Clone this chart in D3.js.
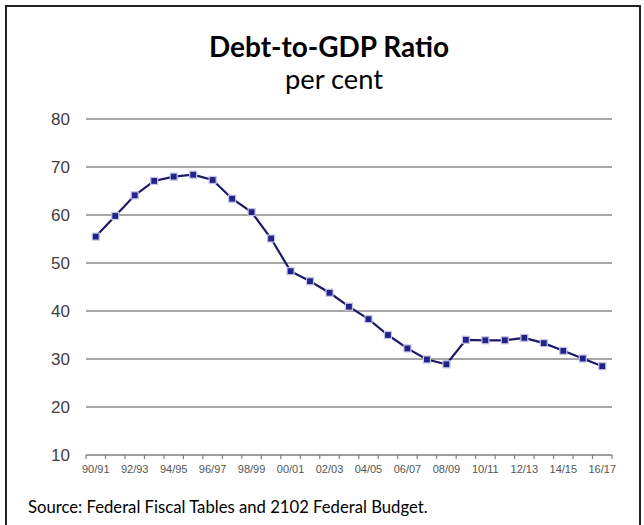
<!DOCTYPE html>
<html>
<head>
<meta charset="utf-8">
<script src="https://cdn.jsdelivr.net/npm/d3@7"></script>
<style>
  html, body { margin: 0; padding: 0; background: #fff; }
  svg { display: block; }
</style>
</head>
<body>
<div id="chart"></div>
<script>
// fiscal years shown on the x axis
const years = ['90/91','91/92','92/93','93/94','94/95','95/96','96/97','97/98','98/99','99/00',
    '00/01','01/02','02/03','03/04','04/05','05/06','06/07','07/08','08/09','09/10',
    '10/11','11/12','12/13','13/14','14/15','15/16','16/17'];
// debt as per cent of GDP
const debtRatio = [55.5, 59.8, 64.1, 67.1, 68.0, 68.4, 67.3, 63.4, 60.6, 55.1,
    48.3, 46.2, 43.8, 40.9, 38.3, 35.0, 32.2, 29.9, 28.9, 34.0,
    33.9, 33.9, 34.4, 33.3, 31.7, 30.1, 28.5];
const yTicks = [10, 20, 30, 40, 50, 60, 70, 80];
const labelledYears = years.filter((d, i) => i % 2 === 0);

const W = 644, H = 525;
const margin = { top: 119, right: 32, bottom: 70, left: 86 };
const width = W - margin.left - margin.right;
const height = H - margin.top - margin.bottom;

const svg = d3.select('#chart').append('svg')
    .attr('width', W)
    .attr('height', H);

// frame
svg.append('path')
    .attr('d', 'M6,525 V6 H640 V525')
    .attr('fill', 'none')
    .attr('stroke', '#222')
    .attr('stroke-width', 2);

// fit a text node to a target width by adjusting its font size
function fitWidth(sel, target) {
    const size = parseFloat(sel.style('font-size'));
    const w = sel.node().getComputedTextLength();
    sel.style('font-size', (size * target / w) + 'px');
}

const title = svg.append('text')
    .attr('x', 329).attr('y', 57)
    .attr('text-anchor', 'middle')
    .style('font-family', 'Lato, "Open Sans", sans-serif')
    .style('font-weight', 'bold')
    .style('font-size', '26px')
    .style('fill', '#000')
    .text('Debt-to-GDP Ratio');
fitWidth(title, 240);

const subtitle = svg.append('text')
    .attr('x', 334).attr('y', 89)
    .attr('text-anchor', 'middle')
    .style('font-family', 'Lato, "Open Sans", sans-serif')
    .style('font-size', '24px')
    .style('fill', '#000')
    .text('per cent');
fitWidth(subtitle, 98);

const source = svg.append('text')
    .attr('x', 28).attr('y', 513)
    .style('font-family', 'Lato, "Open Sans", sans-serif')
    .style('font-size', '18px')
    .style('fill', '#000')
    .text('Source: Federal Fiscal Tables and 2102 Federal Budget.');
fitWidth(source, 400);

const g = svg.append('g')
    .attr('transform', 'translate(' + margin.left + ',' + margin.top + ')');

const xScale = d3.scaleBand()
    .domain(years)
    .range([0, width]);

const yScale = d3.scaleLinear()
    .domain([10, 80])
    .range([height, 0]);

// horizontal gridlines
g.append('g')
    .selectAll('line')
    .data(yTicks.filter(d => d > 10))
    .enter().append('line')
    .attr('x1', 0).attr('x2', width)
    .attr('y1', d => yScale(d)).attr('y2', d => yScale(d))
    .attr('stroke', '#a6a6a6')
    .attr('stroke-width', 2);

// y axis labels
const yAxis = d3.axisLeft(yScale)
    .tickValues(yTicks)
    .tickSize(0)
    .tickPadding(16);
const yG = g.append('g').call(yAxis);
yG.select('.domain').remove();
yG.selectAll('text')
    .style('font-family', '"Liberation Sans Narrow", "Liberation Sans", Arial, sans-serif')
    .style('font-size', '17px')
    .style('fill', '#404040');

// x axis: ticks on category boundaries, labels every second year
const xG = g.append('g').attr('transform', 'translate(0,' + height + ')');
xG.append('line')
    .attr('x1', 0).attr('x2', width)
    .attr('stroke', '#7f7f7f').attr('stroke-width', 1.5);
xG.selectAll('.tick-mark')
    .data(years.concat(['end']))
    .enter().append('line')
    .attr('class', 'tick-mark')
    .attr('x1', (d, i) => i * xScale.step())
    .attr('x2', (d, i) => i * xScale.step())
    .attr('y1', 0).attr('y2', 4)
    .attr('stroke', '#7f7f7f').attr('stroke-width', 1.2);
xG.selectAll('.x-label')
    .data(labelledYears)
    .enter().append('text')
    .attr('class', 'x-label')
    .attr('x', d => xScale(d) + xScale.bandwidth() / 2)
    .attr('y', 18)
    .attr('text-anchor', 'middle')
    .style('font-family', '"Liberation Sans Narrow", "Liberation Sans", Arial, sans-serif')
    .style('font-size', '11px')
    .style('fill', '#555')
    .text(d => d);

const points = years.map((d, i) => ({ year: d, val: debtRatio[i] }));
const cx = d => xScale(d.year) + xScale.bandwidth() / 2;

const line = d3.line()
    .x(cx)
    .y(d => yScale(d.val));

g.append('path')
    .datum(points)
    .attr('d', line)
    .attr('fill', 'none')
    .attr('stroke', '#1c1a66')
    .attr('stroke-width', 2.2);

g.selectAll('.marker')
    .data(points)
    .enter().append('rect')
    .attr('class', 'marker')
    .attr('x', d => cx(d) - 3.5)
    .attr('y', d => yScale(d.val) - 3.5)
    .attr('width', 7)
    .attr('height', 7)
    .attr('fill', '#22228a')
    .attr('stroke', '#c4c4e6')
    .attr('stroke-width', 1.2);
</script>
</body>
</html>
